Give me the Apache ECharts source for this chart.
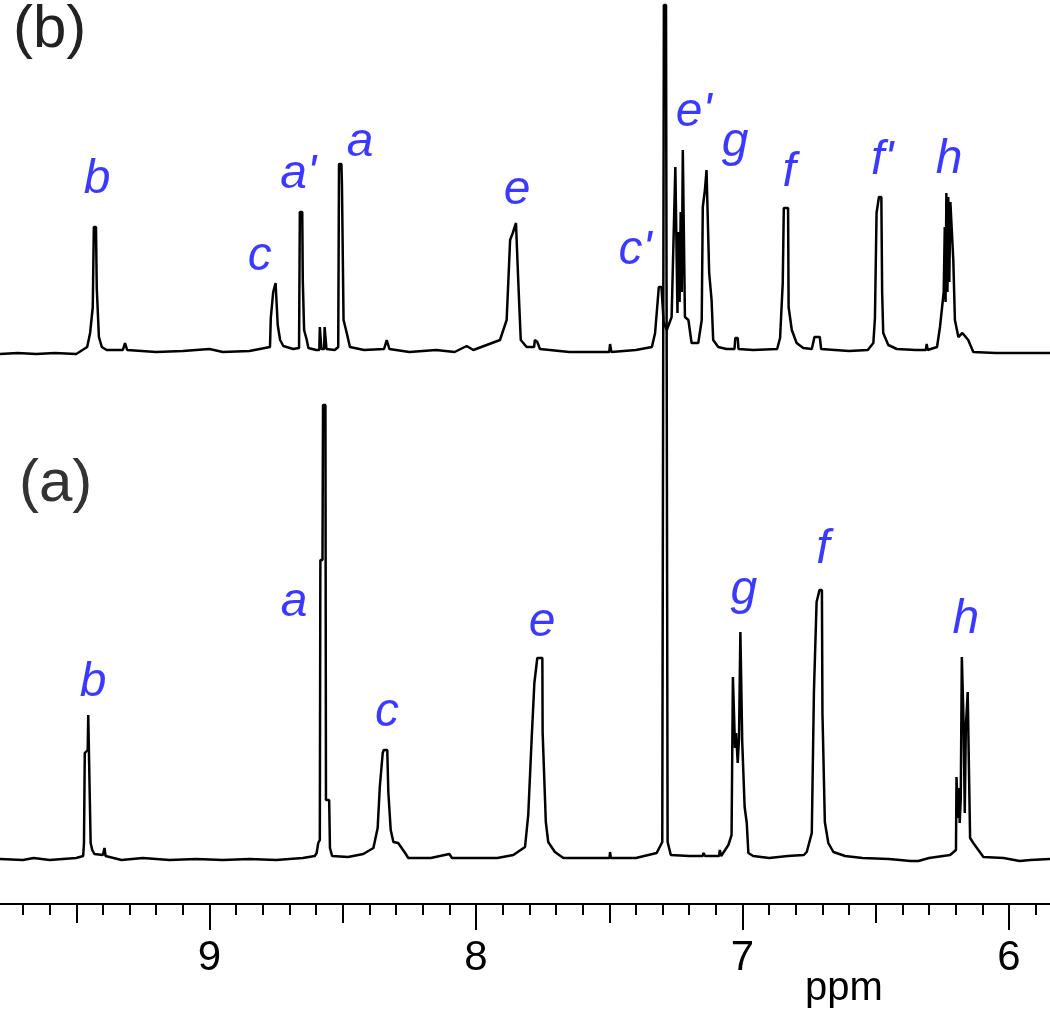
<!DOCTYPE html>
<html>
<head>
<meta charset="utf-8">
<title>NMR spectra (a) and (b)</title>
<script src="https://cdn.jsdelivr.net/npm/echarts@6/dist/echarts.min.js"></script>
<style>
  html, body { margin: 0; padding: 0; background: #fff; }
  #chart { width: 1050px; height: 1016px; }
</style>
</head>
<body>
<div id="chart"></div>
<script>
// [ppm, intensity], high ppm -> low ppm
const specA = [
  [9.790, -1], [9.70, -2], [9.66, 0], [9.60, -2], [9.55, -1], [9.50, 0],
  [9.474, 2], [9.471, 15], [9.468, 105], [9.457, 108], [9.455, 143], [9.448, 143], [9.446, 15],
  [9.440, 8], [9.432, 4], [9.400, 3], [9.394, 10], [9.390, 2],
  [9.33, -2], [9.25, 0], [9.15, -2], [9.05, -1], [8.95, -2], [8.85, -1], [8.75, -2], [8.65, 0],
  [8.605, 2], [8.598, 5], [8.592, 15], [8.586, 18], [8.584, 298], [8.576, 298], [8.574, 453],
  [8.565, 453], [8.563, 58], [8.551, 58], [8.548, 10], [8.540, 2],
  [8.48, 1], [8.423, 4], [8.385, 10], [8.369, 30], [8.361, 71], [8.350, 105], [8.346, 108],
  [8.333, 108], [8.329, 66], [8.320, 28], [8.310, 16], [8.292, 15], [8.285, 16], [8.266, 5], [8.254, 0],
  [8.17, 0], [8.10, 4], [8.09, 0], [8.00, 0], [7.92, 0],
  [7.860, 3], [7.816, 11], [7.804, 43], [7.791, 120], [7.781, 175], [7.770, 200], [7.751, 200],
  [7.750, 126], [7.738, 36], [7.729, 16], [7.704, 6], [7.672, 0],
  [7.56, 0], [7.499, 0], [7.497, 6], [7.494, 0], [7.40, 0],
  [7.322, 5], [7.301, 16], [7.295, 853], [7.287, 853], [7.281, 16], [7.269, 3],
  [7.20, 2], [7.149, 2], [7.147, 5], [7.140, 2], [7.088, 2], [7.085, 8], [7.080, 2],
  [7.053, 13], [7.041, 23], [7.036, 181], [7.031, 181], [7.028, 110], [7.024, 125], [7.018, 95],
  [7.013, 120], [7.008, 226], [7.004, 226], [7.001, 116], [6.994, 116], [6.992, 51], [6.984, 35], [6.978, 5],
  [6.96, 2], [6.90, 0], [6.83, 2], [6.77, 3],
  [6.759, 6], [6.740, 25], [6.732, 166], [6.722, 256], [6.711, 268], [6.702, 268], [6.700, 145],
  [6.691, 36], [6.678, 15], [6.659, 6], [6.615, 2],
  [6.55, 0], [6.45, -1], [6.37, -3], [6.34, -3], [6.30, 0],
  [6.221, 3], [6.199, 8], [6.197, 81], [6.194, 81], [6.191, 40], [6.188, 70], [6.185, 35], [6.181, 60],
  [6.177, 201], [6.173, 201], [6.170, 131], [6.166, 45], [6.162, 130], [6.155, 166], [6.149, 166],
  [6.146, 20], [6.134, 15], [6.115, 8], [6.096, 1],
  [6.02, 0], [5.96, -3], [5.92, -2], [5.846, -1]
];

const specB = [
  [9.790, -2], [9.72, -1], [9.65, -2], [9.58, -1], [9.50, -2],
  [9.459, 5], [9.448, 19], [9.438, 45], [9.434, 125], [9.426, 125], [9.423, 64], [9.415, 15],
  [9.404, 5], [9.386, 2], [9.325, 2], [9.317, 9], [9.309, 2],
  [9.20, 0], [9.10, 1], [9.00, 3], [8.95, 0], [8.85, 1],
  [8.773, 5], [8.770, 34], [8.761, 60], [8.752, 69], [8.746, 69], [8.744, 27], [8.735, 12],
  [8.723, 6], [8.686, 3],
  [8.664, 4], [8.661, 140], [8.652, 140], [8.650, 72], [8.645, 22], [8.635, 12], [8.629, 4],
  [8.600, 2], [8.588, 2], [8.586, 25], [8.582, 25], [8.580, 3], [8.570, 3], [8.568, 25], [8.564, 25], [8.561, 3],
  [8.530, 2], [8.517, 5], [8.514, 188], [8.505, 188], [8.503, 167], [8.499, 167], [8.497, 32],
  [8.485, 19], [8.473, 5],
  [8.42, 2], [8.345, 3], [8.335, 12], [8.325, 3], [8.25, 0], [8.15, 2], [8.08, 0], [8.035, 6], [8.01, 2],
  [7.910, 12], [7.885, 32], [7.872, 112], [7.862, 119], [7.850, 129], [7.845, 129], [7.842, 75],
  [7.838, 49], [7.832, 12], [7.810, 5], [7.782, 5], [7.779, 12], [7.770, 10], [7.760, 3],
  [7.65, 0], [7.55, 0], [7.500, 0], [7.497, 8], [7.492, 0], [7.40, 2],
  [7.340, 5], [7.328, 19], [7.314, 65], [7.304, 65], [7.296, 30], [7.284, 22], [7.266, 35],
  [7.252, 185], [7.247, 185], [7.244, 39], [7.240, 120], [7.236, 50], [7.232, 140], [7.228, 60],
  [7.224, 202], [7.219, 202], [7.216, 35], [7.203, 32], [7.191, 9], [7.166, 9],
  [7.153, 32], [7.149, 145], [7.141, 162], [7.135, 182], [7.129, 182], [7.125, 79], [7.116, 52],
  [7.110, 12], [7.091, 5],
  [7.06, 3], [7.030, 3], [7.027, 14], [7.018, 14], [7.015, 3], [6.96, 2],
  [6.870, 3], [6.859, 14], [6.849, 69], [6.845, 144], [6.829, 144], [6.827, 45], [6.815, 22],
  [6.797, 9], [6.772, 4],
  [6.740, 3], [6.730, 15], [6.710, 15], [6.705, 3], [6.60, 1], [6.53, 2],
  [6.509, 9], [6.503, 34], [6.497, 139], [6.488, 155], [6.479, 155], [6.476, 60], [6.472, 19],
  [6.453, 7], [6.421, 3],
  [6.35, 2], [6.312, 2], [6.309, 8], [6.305, 2],
  [6.270, 5], [6.259, 25], [6.245, 60], [6.241, 125], [6.238, 50], [6.235, 159], [6.231, 60],
  [6.228, 155], [6.224, 70], [6.220, 150], [6.215, 150], [6.209, 92], [6.203, 32], [6.190, 15],
  [6.175, 19], [6.168, 19], [6.153, 12], [6.134, 0], [6.05, -1], [5.95, -1], [5.846, -1]
];

// peak labels: [text, ppm, height]
const labelsA = [
  ['b', 9.437, 175], ['a', 8.683, 255], ['c', 8.334, 145], ['e', 7.752, 235],
  ['g', 6.995, 267], ['f', 6.698, 308], ['h', 6.162, 238]
];
const labelsB = [
  ['b', 9.422, 172], ['c', 8.811, 95], ["a'", 8.667, 177], ['a', 8.435, 209],
  ['e', 7.846, 161], ["c'", 7.403, 101], ["e'", 7.183, 239], ['g', 7.028, 209],
  ['f', 6.825, 179], ["f'", 6.476, 191], ['h', 6.225, 192]
];

const xTicks = ['9', '8', '7', '6'];

const FONT = 'Liberation Sans, Arial, sans-serif';
const BLUE = '#0808ff';

const chart = echarts.init(document.getElementById('chart'));

function labelSeries(list, yIdx) {
  return {
    type: 'scatter',
    yAxisIndex: yIdx,
    symbolSize: 0,
    silent: true,
    data: list.map(l => ({ name: l[0], value: [l[1], l[2]] })),
    label: {
      show: true, position: 'inside', formatter: '{b}',
      fontFamily: FONT, fontStyle: 'italic', fontSize: 48, color: BLUE
    }
  };
}

const xCommon = {
  type: 'value', min: 5, max: 10, inverse: true,
  splitLine: { show: false }, position: 'bottom'
};

const option = {
  animation: false,
  backgroundColor: '#fff',
  title: [
    { text: '(b)', left: 8, top: -5, textStyle: { fontFamily: FONT, fontSize: 60, fontWeight: 'normal', color: '#222' } },
    { text: '(a)', left: 14, top: 449, textStyle: { fontFamily: FONT, fontSize: 60, fontWeight: 'normal', color: '#333' } },
    { text: 'ppm', left: 800, top: 964, textStyle: { fontFamily: FONT, fontSize: 40, fontWeight: 'normal', color: '#000' } }
  ],
  grid: { left: -57, right: -225.5, top: 0, bottom: 112, outerBoundsMode: 'none' },
  xAxis: [
    Object.assign({}, xCommon, {
      interval: 1,
      axisLine: { onZero: false, lineStyle: { color: '#000', width: 2 } },
      axisTick: { length: 26, lineStyle: { color: '#000', width: 2 } },
      minorTick: { show: true, splitNumber: 10, length: 11, lineStyle: { color: '#000', width: 2 } },
      axisLabel: {
        margin: 33, fontFamily: FONT, fontSize: 42, color: '#000',
        formatter: v => (xTicks.indexOf(String(v)) >= 0 ? String(v) : '')
      }
    }),
    Object.assign({}, xCommon, {
      interval: 0.5,
      axisLine: { show: false, onZero: false },
      axisTick: { length: 19, lineStyle: { color: '#000', width: 2 } },
      axisLabel: { show: false }
    })
  ],
  yAxis: [
    { type: 'value', min: -46, max: 858, show: false },
    { type: 'value', min: -552, max: 352, show: false }
  ],
  series: [
    {
      name: '(a)', type: 'line', yAxisIndex: 0, data: specA, showSymbol: false,
      lineStyle: { color: '#000', width: 2.5 }, silent: true
    },
    {
      name: '(b)', type: 'line', yAxisIndex: 1, data: specB, showSymbol: false,
      lineStyle: { color: '#000', width: 2.5 }, silent: true
    },
    labelSeries(labelsA, 0),
    labelSeries(labelsB, 1)
  ]
};

chart.setOption(option);
</script>
</body>
</html>
